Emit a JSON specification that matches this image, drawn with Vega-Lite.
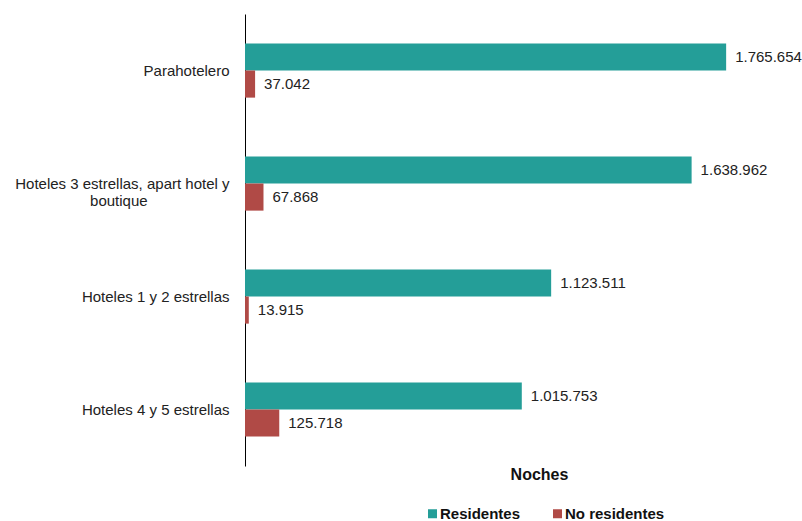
{
  "$schema": "https://vega.github.io/schema/vega-lite/v6.json",
  "width": 545,
  "height": 452,
  "autosize": {"type": "none"},
  "padding": {"left": 245, "top": 14, "right": 12, "bottom": 55},
  "config": {
    "view": {"stroke": null},
    "font": "Liberation Sans",
    "locale": {"number": {"decimal": ",", "thousands": ".", "grouping": [3], "currency": ["", "€"]}}
  },
  "data": {
    "values": [
      {"categoria": "Parahotelero", "tipo": "Residentes", "noches": 1765654},
      {"categoria": "Parahotelero", "tipo": "No residentes", "noches": 37042},
      {"categoria": "Hoteles 3 estrellas, apart hotel y boutique", "tipo": "Residentes", "noches": 1638962},
      {"categoria": "Hoteles 3 estrellas, apart hotel y boutique", "tipo": "No residentes", "noches": 67868},
      {"categoria": "Hoteles 1 y 2 estrellas", "tipo": "Residentes", "noches": 1123511},
      {"categoria": "Hoteles 1 y 2 estrellas", "tipo": "No residentes", "noches": 13915},
      {"categoria": "Hoteles 4 y 5 estrellas", "tipo": "Residentes", "noches": 1015753},
      {"categoria": "Hoteles 4 y 5 estrellas", "tipo": "No residentes", "noches": 125718}
    ]
  },
  "encoding": {
    "y": {
      "field": "categoria",
      "type": "nominal",
      "sort": null,
      "scale": {"paddingInner": 0.52, "paddingOuter": 0.26},
      "axis": {
        "title": null,
        "ticks": false,
        "domainColor": "#000000",
        "domainWidth": 1,
        "labelFontSize": 15,
        "labelColor": "#222222",
        "labelPadding": 16,
        "labelLimit": 300,
        "labelLineHeight": 17,
        "labelExpr": "datum.value == 'Hoteles 3 estrellas, apart hotel y boutique' ? ['Hoteles 3 estrellas, apart hotel y', 'boutique\u00a0\u00a0\u00a0\u00a0\u00a0\u00a0\u00a0\u00a0\u00a0\u00a0\u00a0\u00a0\u00a0\u00a0\u00a0\u00a0\u00a0\u2800'] : datum.value"
      }
    },
    "yOffset": {"field": "tipo", "type": "nominal", "sort": ["Residentes", "No residentes"]},
    "x": {
      "field": "noches",
      "type": "quantitative",
      "scale": {"domain": [0, 2000000]},
      "axis": {
        "title": "Noches",
        "titleFontSize": 16,
        "titleFontWeight": "bold",
        "titleColor": "#111111",
        "titleX": 294,
        "titleY": 0,
        "titleBaseline": "top",
        "domain": false,
        "labels": false,
        "ticks": false,
        "grid": false
      }
    }
  },
  "layer": [
    {
      "mark": {"type": "bar"},
      "encoding": {
        "color": {
          "field": "tipo",
          "type": "nominal",
          "scale": {"domain": ["Residentes", "No residentes"], "range": ["#249e98", "#b04a46"]},
          "legend": {
            "title": null,
            "orient": "none",
            "direction": "horizontal",
            "legendX": 180,
            "legendY": 492,
            "symbolType": "square",
            "symbolSize": 81,
            "symbolOpacity": 1,
            "labelFontSize": 15,
            "labelFontWeight": "bold",
            "labelColor": "#111111",
            "labelOffset": 0,
            "columnPadding": 29
          }
        }
      }
    },
    {
      "mark": {"type": "text", "align": "left", "baseline": "middle", "dx": 9, "fontSize": 15, "color": "#222222"},
      "encoding": {"text": {"field": "noches", "type": "quantitative", "format": ",d"}}
    }
  ]
}
